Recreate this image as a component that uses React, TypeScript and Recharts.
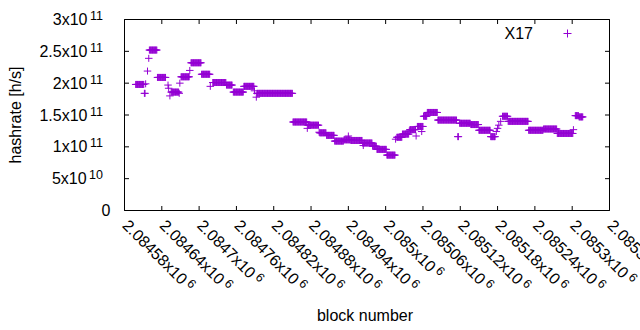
import React from 'react';
import { ScatterChart, Scatter, XAxis, YAxis, Label } from 'recharts';

const FONT = '"Liberation Sans", Arial, Helvetica, sans-serif';
const COLOR = '#9400d3';
const FRAME = '#000000';
const SERIES_NAME = 'X17';

// Stretches of consecutive blocks that share one hashrate value.
const runStart = [
  2084598, 2084612, 2084614, 2084617, 2084619, 2084620, 2084633, 2084650, 2084651, 2084653,
  2084655, 2084668, 2084669, 2084671, 2084685, 2084687, 2084704, 2084718, 2084722, 2084744,
  2084755, 2084772, 2084789, 2084792, 2084793, 2084851, 2084874, 2084875, 2084893, 2084894,
  2084905, 2084918, 2084933, 2084940, 2084944, 2084964, 2084963, 2084979, 2084986, 2085002,
  2085016, 2085018, 2085027, 2085038, 2085039, 2085049, 2085051, 2085058, 2085061, 2085067,
  2085084, 2085116, 2085119, 2085137, 2085150, 2085169, 2085178, 2085180, 2085182, 2085185,
  2085188, 2085197, 2085230, 2085254, 2085276, 2085302, 2085305, 2085311,
];
const runEnd = [
  2084611, 2084613, 2084614, 2084617, 2084619, 2084632, 2084646, 2084650, 2084651, 2084653,
  2084667, 2084668, 2084669, 2084684, 2084685, 2084703, 2084717, 2084718, 2084743, 2084753,
  2084771, 2084788, 2084789, 2084792, 2084850, 2084873, 2084874, 2084892, 2084893, 2084904,
  2084917, 2084932, 2084943, 2084940, 2084962, 2084964, 2084978, 2084985, 2085001, 2085015,
  2085016, 2085026, 2085037, 2085038, 2085048, 2085049, 2085060, 2085058, 2085066, 2085083,
  2085114, 2085117, 2085136, 2085149, 2085168, 2085176, 2085178, 2085180, 2085182, 2085185,
  2085196, 2085229, 2085253, 2085275, 2085301, 2085302, 2085310, 2085317,
];
// hashrate in units of 10^9 h/s
const runValue = [
  198, 184, 199, 219, 239, 252, 209, 197, 192, 180,
  186, 184, 200, 210, 220, 232, 214, 195, 201, 197,
  186, 195, 188, 178, 184, 139, 129, 134, 123, 122,
  118, 109, 111, 117, 110, 102, 106, 101, 96, 87,
  112, 115, 120, 125, 127, 117, 132, 124, 148, 154,
  142, 116, 137, 135, 126, 116, 124, 129, 134, 140,
  148, 140, 126, 128, 121, 127, 149, 147,
];

const xDomain = [2084580, 2085360];
const xTicks = [
  2084580, 2084640, 2084700, 2084760, 2084820, 2084880, 2084940,
  2085000, 2085060, 2085120, 2085180, 2085240, 2085300, 2085360,
];
const xTickMantissa = [
  '2.08458', '2.08464', '2.0847', '2.08476', '2.08482', '2.08488', '2.08494',
  '2.085', '2.08506', '2.08512', '2.08518', '2.08524', '2.0853', '2.08536',
];
const xTickExponent = '6';

const yDomain = [0, 3e11];
const yTicks = [0, 5e10, 1e11, 1.5e11, 2e11, 2.5e11, 3e11];
const yTickMantissa = ['0', '5', '1', '1.5', '2', '2.5', '3'];
const yTickExponent = ['', '10', '11', '11', '11', '11', '11'];

// layout of the plotting frame
const PLOT_LEFT = 124.5;
const PLOT_TOP = 19.5;
const PLOT_W = 485;
const PLOT_H = 191;
const TICK_LEN = 4.5;
const X_TICK_MARGIN = 16.5;
const Y_TICK_MARGIN = 26;

const points: { block: number; hashrate: number }[] = [];
runStart.forEach((s, i) => {
  for (let b = s; b <= runEnd[i]; b++) {
    points.push({ block: b, hashrate: runValue[i] * 1e9 });
  }
});

const Plus = (props: any) => {
  const { cx, cy } = props;
  if (cx == null || cy == null) return null;
  return (
    <path
      d={`M${cx - 3.75},${cy}H${cx + 3.75}M${cx},${cy - 3.5}V${cy + 3.5}`}
      stroke={COLOR}
      strokeWidth={1}
      fill="none"
    />
  );
};

const YTick = (props: any) => {
  const { x, y, payload } = props;
  const i = yTicks.indexOf(payload.value);
  if (i < 0) return null;
  const axisX = x + Y_TICK_MARGIN - TICK_LEN;
  const marks = (
    <g stroke={FRAME} strokeWidth={1}>
      <line x1={axisX} y1={y} x2={axisX + TICK_LEN} y2={y} />
      <line x1={axisX + PLOT_W} y1={y} x2={axisX + PLOT_W - TICK_LEN} y2={y} />
    </g>
  );
  if (yTickExponent[i] === '') {
    return (
      <g>
        {marks}
        <text x={x + 7.5} y={y + 5.5} textAnchor="end" fontSize={16} fontFamily={FONT} fill="#000">
          {yTickMantissa[i]}
        </text>
      </g>
    );
  }
  return (
    <g>
      {marks}
      <text x={x} y={y + 5.5} textAnchor="end" fontSize={16} fontFamily={FONT} fill="#000">
        <tspan>{yTickMantissa[i]}x10</tspan>
        <tspan dx={2.5} dy={-5} fontSize={12.5}>{yTickExponent[i]}</tspan>
      </text>
    </g>
  );
};

const XTick = (props: any) => {
  const { x, y, payload } = props;
  const i = xTicks.indexOf(payload.value);
  if (i < 0) return null;
  const axisY = y - X_TICK_MARGIN + TICK_LEN;
  return (
    <g>
      <g stroke={FRAME} strokeWidth={1}>
        <line x1={x} y1={axisY} x2={x} y2={axisY - TICK_LEN} />
        <line x1={x} y1={axisY - PLOT_H} x2={x} y2={axisY - PLOT_H + TICK_LEN} />
      </g>
      <g transform={`translate(${x + 1},${y}) rotate(45)`}>
        <text x={0} y={0} dy="0.35em" textAnchor="start" fontSize={16} fontFamily={FONT} fill="#000">
          <tspan>{xTickMantissa[i]}x10</tspan>
          <tspan dx={3} dy={-5} fontSize={12.5}>{xTickExponent}</tspan>
        </text>
      </g>
    </g>
  );
};

export default function App() {
  return (
    <div style={{ position: 'absolute', left: 0, top: 0, width: 640, height: 330, background: '#fff' }}>
      <ScatterChart
        width={640}
        height={330}
        margin={{ top: PLOT_TOP, right: 640 - PLOT_LEFT - PLOT_W, bottom: 0, left: 0 }}
      >
        <XAxis
          dataKey="block"
          type="number"
          domain={xDomain}
          ticks={xTicks}
          interval={0}
          height={330 - PLOT_TOP - PLOT_H}
          tickSize={-TICK_LEN}
          tickMargin={X_TICK_MARGIN}
          axisLine={false}
          tickLine={false}
          tick={<XTick />}
          allowDataOverflow
        >
          <Label
            content={(p: any) => {
              const vb = p.viewBox || { x: PLOT_LEFT, width: PLOT_W };
              return (
                <text
                  x={vb.x + vb.width / 2 - 2}
                  y={321}
                  textAnchor="middle"
                  fontSize={16}
                  fontFamily={FONT}
                  fill="#000"
                >
                  block number
                </text>
              );
            }}
          />
        </XAxis>
        <YAxis
          dataKey="hashrate"
          type="number"
          domain={yDomain}
          ticks={yTicks}
          interval={0}
          width={PLOT_LEFT}
          tickSize={-TICK_LEN}
          tickMargin={Y_TICK_MARGIN}
          axisLine={false}
          tickLine={false}
          tick={<YTick />}
        >
          <Label
            content={(p: any) => {
              const vb = p.viewBox || { y: PLOT_TOP, height: PLOT_H };
              const cy = vb.y + vb.height / 2;
              return (
                <text
                  x={21}
                  y={cy}
                  transform={`rotate(-90, 21, ${cy})`}
                  textAnchor="middle"
                  fontSize={16}
                  fontFamily={FONT}
                  fill="#000"
                >
                  hashrate [h/s]
                </text>
              );
            }}
          />
        </YAxis>
        <Scatter
          name={SERIES_NAME}
          data={points}
          fill={COLOR}
          shape={<Plus />}
          isAnimationActive={false}
        />
      </ScatterChart>
      <svg
        width={640}
        height={330}
        style={{ position: 'absolute', left: 0, top: 0, pointerEvents: 'none' }}
      >
        <g stroke={FRAME} strokeWidth={1}>
          <line x1={PLOT_LEFT} y1={PLOT_TOP} x2={PLOT_LEFT + PLOT_W} y2={PLOT_TOP} />
          <line x1={PLOT_LEFT} y1={PLOT_TOP + PLOT_H} x2={PLOT_LEFT + PLOT_W} y2={PLOT_TOP + PLOT_H} />
          <line x1={PLOT_LEFT} y1={PLOT_TOP} x2={PLOT_LEFT} y2={PLOT_TOP + PLOT_H} />
          <line x1={PLOT_LEFT + PLOT_W} y1={PLOT_TOP} x2={PLOT_LEFT + PLOT_W} y2={PLOT_TOP + PLOT_H} />
        </g>
        <text x={533} y={38.5} textAnchor="end" fontSize={16} fontFamily={FONT} fill="#000">
          {SERIES_NAME}
        </text>
        <path d="M563.5,33.5H571.5M567.5,29.5V37.5" stroke={COLOR} strokeWidth={1} fill="none" />
      </svg>
    </div>
  );
}
